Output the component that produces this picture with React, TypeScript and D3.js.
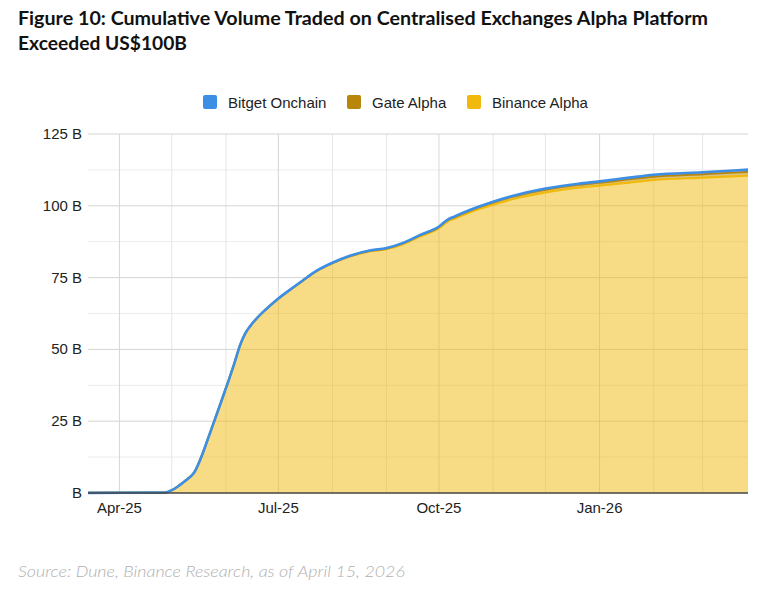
import React from "react";
import * as d3 from "d3";

const dates = [
  "2025-03-14", "2025-04-27", "2025-05-01", "2025-05-04", "2025-05-09", "2025-05-12",
  "2025-05-14", "2025-05-16", "2025-05-19", "2025-05-22", "2025-05-25", "2025-05-28",
  "2025-05-31", "2025-06-03", "2025-06-06", "2025-06-09", "2025-06-12", "2025-06-15",
  "2025-06-18", "2025-06-22", "2025-06-26",
  "2025-07-01", "2025-07-10", "2025-07-15", "2025-07-23", "2025-07-31",
  "2025-08-11", "2025-08-23", "2025-09-01", "2025-09-10", "2025-09-20", "2025-10-01",
  "2025-10-06", "2025-10-10", "2025-10-19", "2025-11-01", "2025-11-12", "2025-12-01",
  "2025-12-20", "2026-01-01", "2026-01-18", "2026-02-01", "2026-03-01", "2026-03-27",
];

// Binance Alpha cumulative volume (B USD)
const binanceAlpha = [
  0.05, 0.15, 1.0, 2.1, 4.4, 5.9,
  7.3, 9.8, 14.3, 19.4, 24.5, 29.6,
  34.8, 40.0, 45.5, 51.3, 55.5, 58.2,
  60.4, 62.9, 65.1,
  67.6, 71.7, 73.9, 77.25, 79.7,
  82.35, 84.2, 84.9, 86.55, 89.3, 92.2,
  94.55, 95.6, 97.8, 100.4, 102.3, 104.7,
  106.3, 107.0, 108.1, 109.0, 109.8, 110.5,
];

// Gate Alpha cumulative volume (B USD)
const gateAlpha = [
  0, 0, 0, 0, 0, 0,
  0, 0, 0, 0, 0, 0,
  0, 0, 0, 0, 0, 0,
  0, 0, 0,
  0.05, 0.05, 0.05, 0.1, 0.1,
  0.15, 0.2, 0.25, 0.3, 0.35, 0.4,
  0.45, 0.5, 0.55, 0.7, 0.8, 0.9,
  1.0, 1.0, 1.1, 1.15, 1.2, 1.3,
];

// Bitget Onchain cumulative volume (B USD)
const bitgetOnchain = [
  0, 0, 0, 0, 0, 0,
  0, 0, 0, 0, 0, 0,
  0, 0, 0, 0, 0, 0,
  0, 0, 0,
  0.05, 0.05, 0.05, 0.05, 0.1,
  0.1, 0.1, 0.15, 0.15, 0.15, 0.2,
  0.2, 0.2, 0.25, 0.3, 0.3, 0.4,
  0.4, 0.5, 0.6, 0.65, 0.7, 0.8,
];

const yTicks = [0, 25, 50, 75, 100, 125];
const xTickDates = ["2025-04-01", "2025-07-01", "2025-10-01", "2026-01-01"];
const xTickLabels = ["Apr-25", "Jul-25", "Oct-25", "Jan-26"];
const monthGridDates = [
  "2025-04-01", "2025-05-01", "2025-06-01", "2025-07-01", "2025-08-01", "2025-09-01",
  "2025-10-01", "2025-11-01", "2025-12-01", "2026-01-01", "2026-02-01", "2026-03-01",
];

const seriesNames = ["Bitget Onchain", "Gate Alpha", "Binance Alpha"];
const seriesColors = ["#3d8fe6", "#b8860b", "#f0b90b"];

const W = 776;
const H = 590;
const left = 88;
const right = 748;
const top = 134;
const bottom = 493;

export default function App() {
  const parse = d3.utcParse("%Y-%m-%d");
  const dts = dates.map((d) => parse(d) as Date);
  const x = d3
    .scaleUtc()
    .domain([parse("2025-03-14") as Date, parse("2026-03-27") as Date])
    .range([left, right]);
  const y = d3.scaleLinear().domain([0, 125]).range([bottom, top]);

  const rows = dts.map((d, i) => ({
    date: d,
    binance: binanceAlpha[i],
    gate: gateAlpha[i],
    bitget: bitgetOnchain[i],
  }));
  const stack = d3.stack<any>().keys(["binance", "gate", "bitget"]);
  const layers = stack(rows);
  const layerColors: Record<string, string> = {
    binance: seriesColors[2],
    gate: seriesColors[1],
    bitget: seriesColors[0],
  };
  const lineWidths: Record<string, number> = { binance: 2.2, gate: 2, bitget: 2.6 };

  const area = d3
    .area<any>()
    .x((d) => x(d.data.date))
    .y0((d) => y(d[0]))
    .y1((d) => y(d[1]))
    .curve(d3.curveMonotoneX);
  const line = d3
    .line<any>()
    .x((d) => x(d.data.date))
    .y((d) => y(d[1]))
    .curve(d3.curveMonotoneX);

  const minorTicks = d3.range(12.5, 125, 25);
  const legendX = [203, 347, 467];

  return (
    <svg
      width={W}
      height={H}
      style={{ position: "absolute", left: 0, top: 0, background: "#fff" }}
      fontFamily="'Liberation Sans', Arial, sans-serif"
    >
      <text
        x={18}
        y={25}
        fontFamily="Lato, 'Open Sans', sans-serif"
        fontWeight={700}
        fontSize={18.5}
        fill="#111"
        textLength={690}
        lengthAdjust="spacingAndGlyphs"
      >
        Figure 10: Cumulative Volume Traded on Centralised Exchanges Alpha Platform
      </text>
      <text
        x={18}
        y={50}
        fontFamily="Lato, 'Open Sans', sans-serif"
        fontWeight={700}
        fontSize={18.5}
        fill="#111"
        textLength={169}
        lengthAdjust="spacingAndGlyphs"
      >
        Exceeded US$100B
      </text>

      {seriesNames.map((n, i) => (
        <g key={n}>
          <rect x={legendX[i]} y={95} width={14} height={14} rx={2} fill={seriesColors[i]} />
          <text x={legendX[i] + 25} y={107.5} fontSize={15} fill="#222">
            {n}
          </text>
        </g>
      ))}

      {minorTicks.map((t) => (
        <line key={"m" + t} x1={left} x2={right} y1={y(t)} y2={y(t)} stroke="#ececec" strokeWidth={1} />
      ))}
      {monthGridDates.map((d) => {
        const quarterly = xTickDates.includes(d);
        const xv = x(parse(d) as Date);
        return (
          <line key={"v" + d} x1={xv} x2={xv} y1={top} y2={bottom} stroke={quarterly ? "#d6d6d6" : "#e6e6e6"} strokeWidth={1} />
        );
      })}
      {yTicks.slice(1).map((t) => (
        <line key={"g" + t} x1={left} x2={right} y1={y(t)} y2={y(t)} stroke="#d4d4d4" strokeWidth={1} />
      ))}

      {layers.map((l) => (
        <path key={"a" + l.key} d={area(l as any) || ""} fill={layerColors[l.key]} fillOpacity={0.5} />
      ))}
      {layers.map((l) => (
        <path
          key={"l" + l.key}
          d={line(l as any) || ""}
          fill="none"
          stroke={layerColors[l.key]}
          strokeWidth={lineWidths[l.key]}
          strokeLinejoin="round"
        />
      ))}

      <line x1={left} x2={right} y1={bottom} y2={bottom} stroke="#444" strokeWidth={1.3} />

      {yTicks.map((t) => (
        <text key={"yt" + t} x={82} y={y(t) + 5} fontSize={15} textAnchor="end" fill="#222">
          {t === 0 ? "B" : `${t} B`}
        </text>
      ))}
      {xTickDates.map((d, i) => (
        <text key={"xt" + d} x={x(parse(d) as Date)} y={513} fontSize={15} textAnchor="middle" fill="#222">
          {xTickLabels[i]}
        </text>
      ))}

      <text
        x={18}
        y={577}
        fontFamily="Lato, 'Open Sans', sans-serif"
        fontStyle="italic"
        fontWeight={300}
        fontSize={16}
        fill="#b0b0b0"
        textLength={387}
        lengthAdjust="spacingAndGlyphs"
      >
        Source: Dune, Binance Research, as of April 15, 2026
      </text>
    </svg>
  );
}
